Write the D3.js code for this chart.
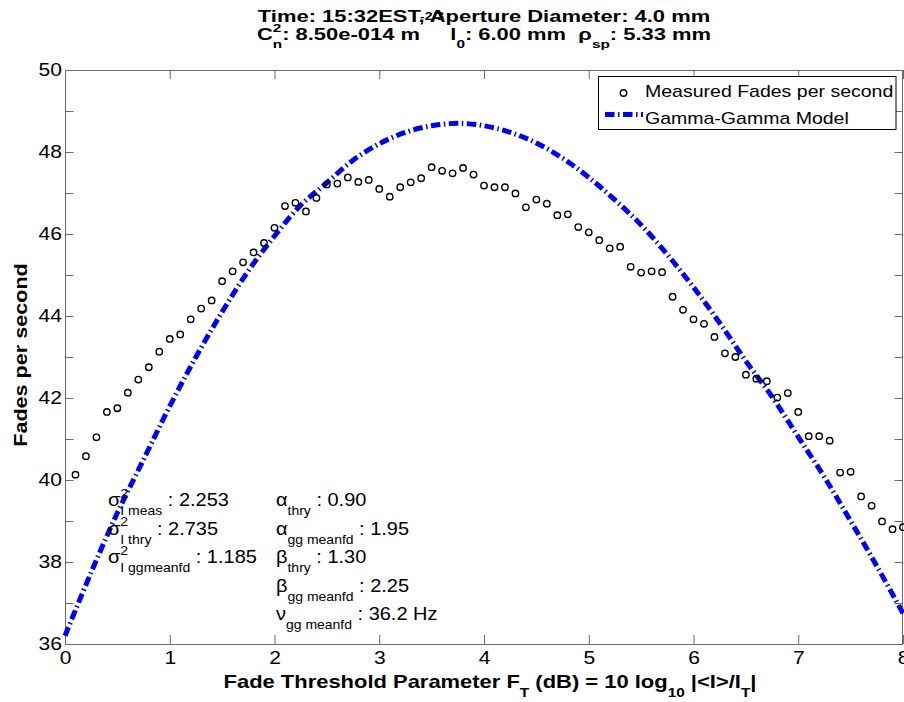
<!DOCTYPE html>
<html>
<head>
<meta charset="utf-8">
<script src="https://cdn.jsdelivr.net/npm/d3@7"></script>
<style>
  html, body { margin: 0; padding: 0; background: #fff; }
  svg text { white-space: pre; }
</style>
</head>
<body>
<svg id="chart" width="904" height="702"></svg>
<script>
// Fade threshold parameter F_T (dB) for the measured fade-rate samples
const thresholdDb = [
  0.1, 0.2, 0.3, 0.4, 0.5, 0.6, 0.7, 0.8, 0.9, 1.0,
  1.1, 1.2, 1.3, 1.4, 1.5, 1.6, 1.7, 1.8, 1.9, 2.0,
  2.1, 2.2, 2.3, 2.4, 2.5, 2.6, 2.7, 2.8, 2.9, 3.0,
  3.1, 3.2, 3.3, 3.4, 3.5, 3.6, 3.7, 3.8, 3.9, 4.0,
  4.1, 4.2, 4.3, 4.4, 4.5, 4.6, 4.7, 4.8, 4.9, 5.0,
  5.1, 5.2, 5.3, 5.4, 5.5, 5.6, 5.7, 5.8, 5.9, 6.0,
  6.1, 6.2, 6.3, 6.4, 6.5, 6.6, 6.7, 6.8, 6.9, 7.0,
  7.1, 7.2, 7.3, 7.4, 7.5, 7.6, 7.7, 7.8, 7.9, 8.0
];

// Measured fades per second at each threshold
const measuredFades = [
  40.13, 40.58, 41.04, 41.66, 41.75, 42.13, 42.45, 42.75, 43.13, 43.44,
  43.55, 43.92, 44.18, 44.38, 44.85, 45.09, 45.31, 45.55, 45.78, 46.15,
  46.68, 46.76, 46.55, 46.88, 47.21, 47.23, 47.38, 47.27, 47.32, 47.10,
  46.91, 47.14, 47.26, 47.36, 47.63, 47.54, 47.48, 47.61, 47.45, 47.18,
  47.14, 47.14, 46.99, 46.65, 46.84, 46.74, 46.46, 46.48, 46.17, 46.04,
  45.85, 45.65, 45.69, 45.20, 45.06, 45.09, 45.07, 44.47, 44.15, 43.92,
  43.81, 43.49, 43.09, 43.00, 42.57, 42.47, 42.41, 42.01, 42.12, 41.66,
  41.07, 41.07, 40.96, 40.18, 40.20, 39.60, 39.37, 38.99, 38.80, 38.85
];

// Gamma-Gamma model fade rate, sampled along the threshold axis
const modelDb = [
  0, 0.25, 0.5, 0.75, 1.0, 1.25, 1.5, 1.75, 2.0, 2.25, 2.5, 2.75, 3.0, 3.25, 3.5, 3.75,
  4.0, 4.25, 4.5, 4.75, 5.0, 5.25, 5.5, 5.75, 6.0, 6.25, 6.5, 6.75, 7.0, 7.25, 7.5, 7.75, 8.0
];
const modelFades = [
  36.2, 37.75, 39.2, 40.5, 41.8, 43.0, 44.1, 45.1, 45.95, 46.7, 47.25, 47.8, 48.2, 48.48, 48.64, 48.7,
  48.64, 48.48, 48.22, 47.85, 47.38, 46.83, 46.22, 45.5, 44.7, 43.83, 42.9, 42.03, 41.05, 40.07, 39.0, 37.9, 36.75
];

// Axis ticks
const xTicks = [0, 1, 2, 3, 4, 5, 6, 7, 8];
const yTicks = [36, 37, 38, 39, 40, 41, 42, 43, 44, 45, 46, 47, 48, 49, 50];
const yLabelled = [36, 38, 40, 42, 44, 46, 48, 50];

// Legend entries
const legendLabels = ["Measured Fades per second", "Gamma-Gamma Model"];

// Fit statistics printed inside the axes: [symbol, subscript, value]
const statsLeft = [
  ["σ", "I meas", " : 2.253"],
  ["σ", "I thry", " : 2.735"],
  ["σ", "I ggmeanfd", " : 1.185"]
];
const statsRight = [
  ["α", "thry", " : 0.90"],
  ["α", "gg meanfd", " : 1.95"],
  ["β", "thry", " : 1.30"],
  ["β", "gg meanfd", " : 2.25"],
  ["ν", "gg meanfd", " : 36.2 Hz"]
];

const FONT = '"Liberation Sans", Arial, Helvetica, sans-serif';
const STRETCH = 1.19;   // glyph width factor of the plot's text face

const svg = d3.select("#chart");
svg.append("rect").attr("width", 904).attr("height", 702).attr("fill", "#fff");

const plot = { left: 65, right: 903, top: 70, bottom: 644 };
const x = d3.scaleLinear().domain([0, 8]).range([plot.left, plot.right]);
const y = d3.scaleLinear().domain([36, 50]).range([plot.bottom, plot.top]);

// Text with TeX-like superscripts / subscripts laid out piece by piece.
// parts: {t, k: 'n' | 'sup' | 'sub' | 'hi', stack: bool, scale}
function richText(parent, parts, o) {
  const g = parent.append("g")
    .attr("transform", `translate(${o.x},${o.y})` + (o.rotate ? ` rotate(${o.rotate})` : "") +
      ` scale(${o.stretch || STRETCH},1)`);
  const inner = g.append("g");
  let cursor = 0, prevStart = 0, prevEnd = 0;
  parts.forEach(p => {
    const k = p.k || "n";
    const size = k === "n" ? o.size : o.size * (p.scale || 0.7);
    const shift = k === "sup" ? -0.47 * o.size : k === "sub" ? 0.5 * o.size : k === "hi" ? -1.22 * o.size : 0;
    const px = p.stack ? prevStart : cursor;
    const t = inner.append("text")
      .attr("x", px).attr("y", shift)
      .attr("font-family", FONT)
      .attr("font-size", size)
      .attr("font-weight", o.weight || "normal")
      .attr("fill", "#000")
      .text(p.t);
    const w = t.node().getComputedTextLength();
    if (p.stack) {
      prevEnd = Math.max(prevEnd, px + w);
      cursor = prevEnd;
    } else {
      prevStart = px;
      prevEnd = px + w;
      cursor = prevEnd;
    }
  });
  const off = o.anchor === "middle" ? -cursor / 2 : o.anchor === "end" ? -cursor : 0;
  inner.attr("transform", `translate(${off},0)`);
  return g;
}

// ---- axes box and ticks ----
const axisColor = "#6a6a6a";
function styleAxis(g, stretchLabels) {
  g.select(".domain").remove();
  g.selectAll(".tick line").attr("stroke", axisColor).attr("stroke-width", 1);
  g.selectAll(".tick text")
    .attr("font-family", FONT).attr("font-size", 18).attr("fill", "#000")
    .each(function () {
      const t = d3.select(this);
      const tx = +t.attr("x") || 0, ty = +t.attr("y") || 0;
      t.attr("x", 0).attr("y", 0)
        .attr("transform", `translate(${tx},${ty}) scale(${stretchLabels},1)`);
    });
}

svg.append("g").attr("transform", `translate(0,${plot.bottom})`)
  .call(d3.axisBottom(x).tickValues(xTicks).tickSizeInner(-9).tickSizeOuter(0).tickPadding(7.5)
    .tickFormat(d3.format("d")))
  .call(g => styleAxis(g, 1.17));
svg.append("g").attr("transform", `translate(0,${plot.top})`)
  .call(d3.axisTop(x).tickValues(xTicks).tickSizeInner(-9).tickSizeOuter(0).tickFormat(""))
  .call(g => styleAxis(g, 1));
svg.append("g").attr("transform", `translate(${plot.left},0)`)
  .call(d3.axisLeft(y).tickValues(yTicks).tickSizeInner(-8.5).tickSizeOuter(0).tickPadding(3)
    .tickFormat(d => yLabelled.includes(d) ? d : ""))
  .call(g => styleAxis(g, 1.17));
svg.append("g").attr("transform", `translate(${plot.right},0)`)
  .call(d3.axisRight(y).tickValues(yTicks).tickSizeInner(-8.5).tickSizeOuter(0).tickFormat(""))
  .call(g => styleAxis(g, 1));

svg.append("rect")
  .attr("x", plot.left + 0.5).attr("y", plot.top + 0.5)
  .attr("width", plot.right - plot.left - 1).attr("height", plot.bottom - plot.top)
  .attr("fill", "none").attr("stroke", axisColor).attr("stroke-width", 1);

// ---- model curve ----
const dashDot = "9.5,3.5,1.5,3.5";
const line = d3.line()
  .x((d, i) => x(modelDb[i]))
  .y(d => y(d))
  .curve(d3.curveCatmullRom.alpha(0.5));
svg.append("path")
  .datum(modelFades)
  .attr("d", line)
  .attr("fill", "none")
  .attr("stroke", "#0000ff")
  .attr("stroke-width", 5)
  .attr("stroke-dasharray", dashDot);

// ---- measured points ----
svg.append("g").selectAll("circle")
  .data(measuredFades)
  .join("circle")
  .attr("cx", (d, i) => x(thresholdDb[i]))
  .attr("cy", d => y(d))
  .attr("r", 3.2)
  .attr("fill", "none")
  .attr("stroke", "#000")
  .attr("stroke-width", 1.4);

// ---- fit statistics ----
const rowBase = 506, rowStep = 28.5;
statsLeft.forEach((r, i) => {
  richText(svg, [
    { t: r[0] },
    { t: "2", k: "sup" },
    { t: r[1], k: "sub", stack: true },
    { t: r[2] }
  ], { x: 108, y: rowBase + i * rowStep, size: 18, stretch: 1.11 });
});
statsRight.forEach((r, i) => {
  richText(svg, [
    { t: r[0] },
    { t: r[1], k: "sub" },
    { t: r[2] }
  ], { x: 276, y: rowBase + i * rowStep, size: 18, stretch: 1.11 });
});

// ---- legend ----
const leg = svg.append("g");
leg.append("rect")
  .attr("x", 598.5).attr("y", 76.5).attr("width", 297.5).attr("height", 53)
  .attr("fill", "#fff").attr("stroke", "#000").attr("stroke-width", 1);
leg.append("circle")
  .attr("cx", 623.5).attr("cy", 93).attr("r", 3.2)
  .attr("fill", "none").attr("stroke", "#000").attr("stroke-width", 1.4);
leg.append("line")
  .attr("x1", 605).attr("x2", 643).attr("y1", 114.5).attr("y2", 114.5)
  .attr("stroke", "#0000ff").attr("stroke-width", 5).attr("stroke-dasharray", dashDot);
legendLabels.forEach((lab, i) => {
  richText(leg, [{ t: lab }], { x: 645, y: 97 + i * 26.5, size: 16.4, stretch: 1.19 });
});

// ---- title ----
richText(svg, [
  { t: "Time: 15:32EST, Aperture Diameter: 4.0 mm" }
], { x: 484, y: 22, size: 16.5, weight: "bold", anchor: "middle", stretch: 1.33 });
richText(svg, [
  { t: "C" },
  { t: "2", k: "sup" },
  { t: "n", k: "sub", stack: true },
  { t: ": 8.50e-014 m" },
  { t: "-2/3", k: "hi", scale: 0.64 },
  { t: " l" },
  { t: "0", k: "sub" },
  { t: ": 6.00 mm  ρ" },
  { t: "sp", k: "sub" },
  { t: ": 5.33 mm" }
], { x: 484, y: 40, size: 16.5, weight: "bold", anchor: "middle", stretch: 1.33 });

// ---- axis labels ----
richText(svg, [
  { t: "Fade Threshold Parameter F" },
  { t: "T", k: "sub" },
  { t: " (dB) = 10 log" },
  { t: "10", k: "sub" },
  { t: " |<I>/I" },
  { t: "T", k: "sub" },
  { t: "|" }
], { x: 490, y: 688, size: 18, weight: "bold", anchor: "middle", stretch: 1.22 });

richText(svg, [{ t: "Fades per second" }],
  { x: 27, y: 355, size: 18, weight: "bold", anchor: "middle", rotate: -90, stretch: 1.2 });
</script>
</body>
</html>
